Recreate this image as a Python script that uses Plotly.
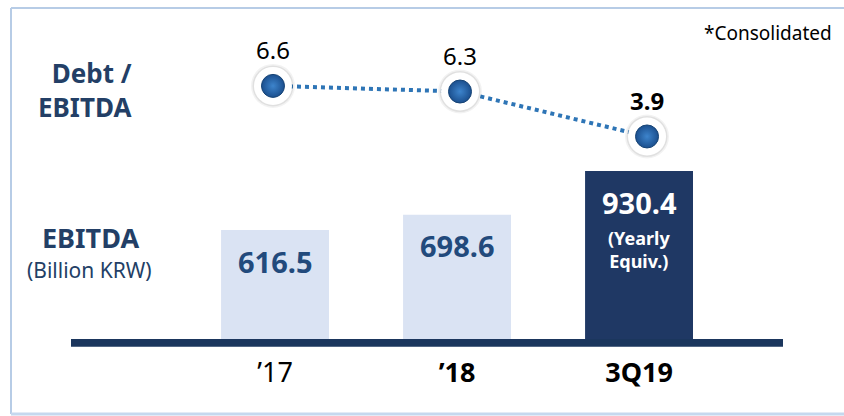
import plotly.graph_objects as go

# ---- data ----
categories = ["’17", "’18", "3Q19"]
tick_labels = ["’17", "<b>’18</b>", "<b>3Q19</b>"]
ebitda = [616.5, 698.6, 930.4]
debt_to_ebitda = [6.6, 6.3, 3.9]

FONT = "Noto Sans"
NAVY = "#1F3864"
LIGHT = "#DAE3F3"
LABEL_BLUE = "#224A7C"

fig = go.Figure()

# EBITDA bars
fig.add_trace(go.Bar(
    x=categories, y=ebitda,
    marker=dict(color=[LIGHT, LIGHT, NAVY], line=dict(width=0)),
    width=0.593, xaxis="x", yaxis="y", hoverinfo="skip",
))

# Debt / EBITDA dotted line
fig.add_trace(go.Scatter(
    x=categories, y=debt_to_ebitda, mode="lines",
    line=dict(color="#2E75B6", width=4, dash="dot"),
    xaxis="x2", yaxis="y2", hoverinfo="skip",
))
# soft shadow rings
for sz, col in [(44, "rgba(0,0,0,0.05)"), (41, "rgba(0,0,0,0.07)")]:
    fig.add_trace(go.Scatter(
        x=categories, y=debt_to_ebitda, mode="markers",
        marker=dict(size=sz, color=col, line=dict(width=0)),
        xaxis="x2", yaxis="y2", hoverinfo="skip",
    ))
# white ring
fig.add_trace(go.Scatter(
    x=categories, y=debt_to_ebitda, mode="markers",
    marker=dict(size=38, color="white", line=dict(width=0)),
    xaxis="x2", yaxis="y2", hoverinfo="skip",
))
# blue dot
fig.add_trace(go.Scatter(
    x=categories, y=debt_to_ebitda, mode="markers",
    marker=dict(size=23, color="#1B4F8E",
                gradient=dict(type="radial", color="#3D84CC"),
                line=dict(width=1, color="#174475")),
    xaxis="x2", yaxis="y2", hoverinfo="skip",
))

annotations = []
# ratio labels
for i, (c, v) in enumerate(zip(categories, debt_to_ebitda)):
    txt = f"{v}" if i < len(categories) - 1 else f"<b>{v}</b>"
    annotations.append(dict(x=c, y=v, xref="x2", yref="y2", text=txt,
                            showarrow=False, yshift=36, yanchor="middle",
                            font=dict(family=FONT, size=24, color="black")))
# bar labels
for i, (c, v) in enumerate(zip(categories, ebitda)):
    last = i == len(categories) - 1
    annotations.append(dict(x=c, y=v, xref="x", yref="y", text=f"<b>{v}</b>",
                            showarrow=False, yshift=-31, yanchor="middle",
                            font=dict(family=FONT, size=29,
                                      color="white" if last else LABEL_BLUE)))
annotations.append(dict(x=categories[-1], y=ebitda[-1], xref="x", yref="y",
                        text="<b>(Yearly<br>Equiv.)</b>", showarrow=False,
                        yshift=-78, yanchor="middle",
                        font=dict(family=FONT, size=18, color="white")))

# left-side titles (paper coordinates)
def px_x(p):
    return (p - 71) / 712.0

def px_y(p):
    return (346 - p) / 338.0

annotations += [
    dict(x=px_x(134), y=px_y(90.5), xref="paper", yref="paper",
         text="<b>Debt /<br>EBITDA</b>", align="right",
         showarrow=False, xanchor="right", yanchor="middle",
         font=dict(family=FONT, size=26, color="#233F66")),
    dict(x=px_x(90), y=px_y(238), xref="paper", yref="paper", text="<b>EBITDA</b>",
         showarrow=False, xanchor="center", yanchor="middle",
         font=dict(family=FONT, size=27, color="#233F66")),
    dict(x=px_x(89), y=px_y(270), xref="paper", yref="paper", text="(Billion KRW)",
         showarrow=False, xanchor="center", yanchor="middle",
         font=dict(family=FONT, size=21, color="#233F66")),
    dict(x=px_x(834), y=px_y(33), xref="paper", yref="paper", text="*Consolidated",
         showarrow=False, xanchor="right", yanchor="middle",
         font=dict(family=FONT, size=19, color="black")),
]

shapes = [
    # outer border (left, top, bottom)
    dict(type="line", xref="paper", yref="paper", x0=px_x(11), x1=px_x(11),
         y0=px_y(8), y1=px_y(414), line=dict(color="#B7CCE6", width=2)),
    dict(type="line", xref="paper", yref="paper", x0=px_x(11), x1=px_x(850),
         y0=px_y(8), y1=px_y(8), line=dict(color="#B7CCE6", width=2)),
    dict(type="line", xref="paper", yref="paper", x0=px_x(11), x1=px_x(850),
         y0=px_y(414), y1=px_y(414), line=dict(color="#C5D8EE", width=3)),
    # baseline
    dict(type="rect", xref="paper", yref="paper", x0=0, x1=1,
         y0=px_y(346.7), y1=px_y(339), fillcolor="#1B365D", line=dict(width=0),
         layer="above"),
]

fig.update_layout(
    width=844, height=416,
    margin=dict(l=71, r=61, t=8, b=70, pad=0),
    paper_bgcolor="white", plot_bgcolor="white",
    showlegend=False,
    font=dict(family=FONT),
    xaxis=dict(type="category", categoryarray=categories, range=[-1.121, 2.791],
               tickvals=categories, ticktext=tick_labels, showgrid=False,
               zeroline=False, showline=False, ticks="",
               tickfont=dict(family=FONT, size=27, color="black"),
               ticklabelstandoff=8, fixedrange=True),
    yaxis=dict(range=[0, 1798], visible=False, fixedrange=True),
    xaxis2=dict(type="category", categoryarray=categories, range=[-1.080, 2.727],
                overlaying="x", anchor="y2", visible=False, fixedrange=True),
    yaxis2=dict(range=[-7.29, 10.76], overlaying="y", anchor="x2", visible=False,
                fixedrange=True),
    annotations=annotations,
    shapes=shapes,
)

fig.write_html("out.html", config={"displayModeBar": False},
               post_script="document.body.style.margin='0';document.body.style.overflow='hidden';")
